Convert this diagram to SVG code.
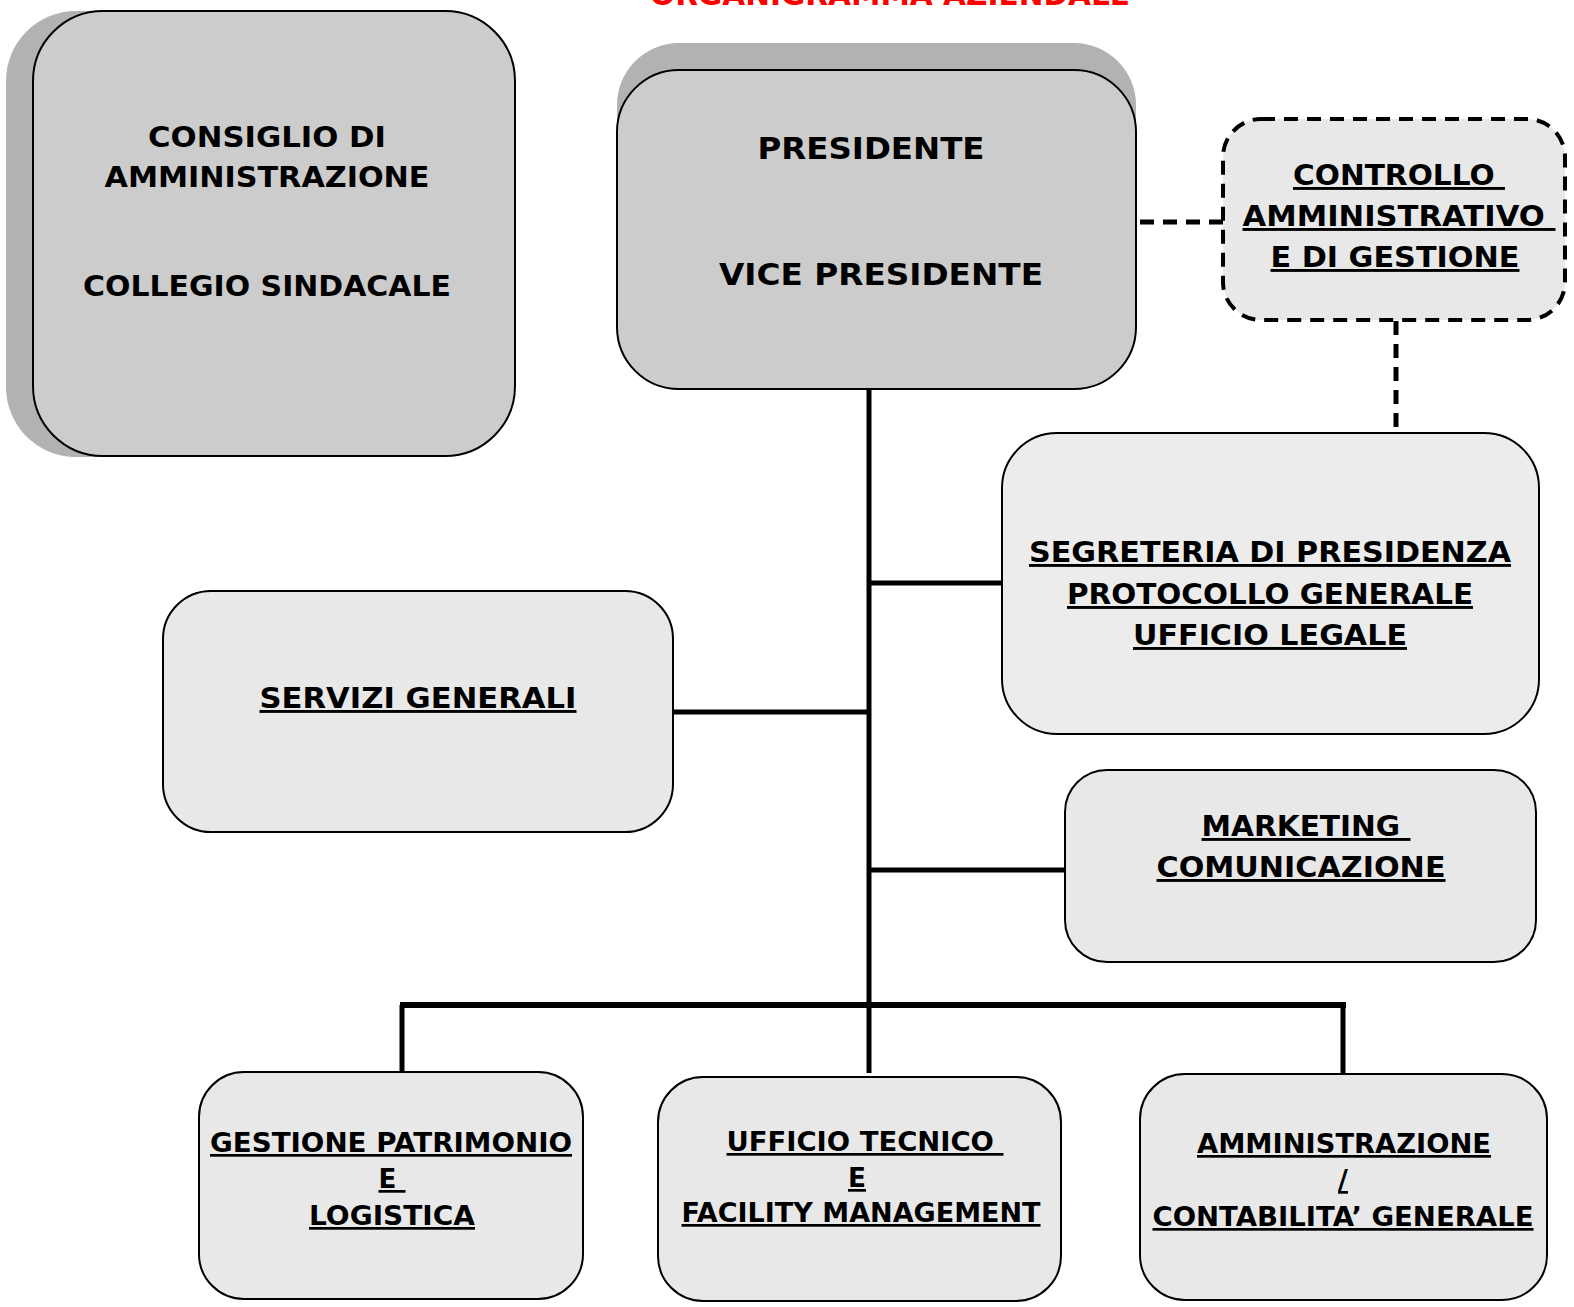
<svg xmlns="http://www.w3.org/2000/svg" width="1574" height="1307" viewBox="0 0 1574 1307">
<style>
text{font-family:"DejaVu Sans","Verdana",sans-serif;font-weight:bold;fill:#000;text-anchor:middle;white-space:pre}
.u{text-decoration:underline}
.f29{font-size:29px}
.f31{font-size:31px}
.f27{font-size:27px}
.box{fill:#e8e8e8;stroke:#000;stroke-width:2}
.top{fill:#cccccc;stroke:#000;stroke-width:2}
.shadow{fill:#b2b2b2}
.conn{stroke:#000;stroke-width:5;fill:none}
.dash{stroke:#000;stroke-width:5;fill:none;stroke-dasharray:14 9}
</style>
<rect width="1574" height="1307" fill="#fff"/>
<text x="890" y="5" style="font-size:30px;fill:#ff0000" textLength="480" lengthAdjust="spacingAndGlyphs">ORGANIGRAMMA AZIENDALE</text>

<g id="connectors">
<line class="conn" x1="869" y1="389" x2="869" y2="1073"/>
<line class="conn" x1="869" y1="583" x2="1003" y2="583"/>
<line class="conn" x1="673" y1="712" x2="869" y2="712"/>
<line class="conn" x1="869" y1="870" x2="1065" y2="870"/>
<line x1="400" y1="1005" x2="1346" y2="1005" stroke="#000" stroke-width="6"/>
<line class="conn" x1="402" y1="1005" x2="402" y2="1072"/>
<line class="conn" x1="1343" y1="1005" x2="1343" y2="1074"/>
<path class="dash" d="M1140 222 H1223"/>
<path class="dash" d="M1396 321 V428"/>
</g>

<g id="consiglio">
<rect class="shadow" x="6" y="11" width="482" height="446" rx="70"/>
<rect class="top" x="33" y="11" width="482" height="445" rx="70"/>
<text class="f29" x="267" y="147" textLength="238" lengthAdjust="spacingAndGlyphs">CONSIGLIO DI</text>
<text class="f29" x="267" y="187" textLength="325" lengthAdjust="spacingAndGlyphs">AMMINISTRAZIONE</text>
<text class="f29" x="267" y="296" textLength="368" lengthAdjust="spacingAndGlyphs">COLLEGIO SINDACALE</text>
</g>

<g id="presidente">
<rect class="shadow" x="617" y="43" width="519" height="320" rx="62"/>
<rect class="top" x="617" y="70" width="519" height="319" rx="62"/>
<text class="f31" x="871" y="159" textLength="227" lengthAdjust="spacingAndGlyphs">PRESIDENTE</text>
<text class="f31" x="881" y="285" textLength="324" lengthAdjust="spacingAndGlyphs">VICE PRESIDENTE</text>
</g>

<g id="controllo">
<rect x="1223" y="119" width="342" height="201" rx="38" fill="#e8e8e8" stroke="#000" stroke-width="4" stroke-dasharray="14 9"/>
<text class="f29 u" x="1399" y="185" textLength="212" lengthAdjust="spacingAndGlyphs">CONTROLLO </text>
<text class="f29 u" x="1399" y="226" textLength="313" lengthAdjust="spacingAndGlyphs">AMMINISTRATIVO </text>
<text class="f29 u" x="1395" y="267" textLength="249" lengthAdjust="spacingAndGlyphs">E DI GESTIONE</text>
</g>

<g id="segreteria">
<rect class="box" x="1002" y="433" width="537" height="301" rx="55" style="fill:#ececec"/>
<text class="f29 u" x="1270" y="562" textLength="482" lengthAdjust="spacingAndGlyphs">SEGRETERIA DI PRESIDENZA</text>
<text class="f29 u" x="1270" y="604" textLength="406" lengthAdjust="spacingAndGlyphs">PROTOCOLLO GENERALE</text>
<text class="f29 u" x="1270" y="645" textLength="274" lengthAdjust="spacingAndGlyphs">UFFICIO LEGALE</text>
</g>

<g id="servizi">
<rect class="box" x="163" y="591" width="510" height="241" rx="48"/>
<text class="f29 u" x="418" y="708" textLength="317" lengthAdjust="spacingAndGlyphs">SERVIZI GENERALI</text>
</g>

<g id="marketing">
<rect class="box" x="1065" y="770" width="471" height="192" rx="42"/>
<text class="f29 u" x="1306" y="836" textLength="209" lengthAdjust="spacingAndGlyphs">MARKETING </text>
<text class="f29 u" x="1301" y="877" textLength="289" lengthAdjust="spacingAndGlyphs">COMUNICAZIONE</text>
</g>

<g id="gestione">
<rect class="box" x="199" y="1072" width="384" height="227" rx="45"/>
<text class="f27 u" x="391" y="1152" textLength="362" lengthAdjust="spacingAndGlyphs">GESTIONE PATRIMONIO</text>
<text class="f27 u" x="392" y="1188" textLength="27" lengthAdjust="spacingAndGlyphs">E </text>
<text class="f27 u" x="392" y="1225" textLength="166" lengthAdjust="spacingAndGlyphs">LOGISTICA</text>
</g>

<g id="ufficio-tecnico">
<rect class="box" x="658" y="1077" width="403" height="224" rx="45"/>
<text class="f27 u" x="865" y="1151" textLength="277" lengthAdjust="spacingAndGlyphs">UFFICIO TECNICO </text>
<text class="f27 u" x="857" y="1187" textLength="18" lengthAdjust="spacingAndGlyphs">E</text>
<text class="f27 u" x="861" y="1222" textLength="359" lengthAdjust="spacingAndGlyphs">FACILITY MANAGEMENT</text>
</g>

<g id="amministrazione">
<rect class="box" x="1140" y="1074" width="407" height="226" rx="45"/>
<text class="f27 u" x="1344" y="1153" textLength="294" lengthAdjust="spacingAndGlyphs">AMMINISTRAZIONE</text>
<text class="f27 u" x="1343" y="1189">/</text>
<text class="f27 u" x="1343" y="1226" textLength="381" lengthAdjust="spacingAndGlyphs">CONTABILITA’ GENERALE</text>
</g>
</svg>
